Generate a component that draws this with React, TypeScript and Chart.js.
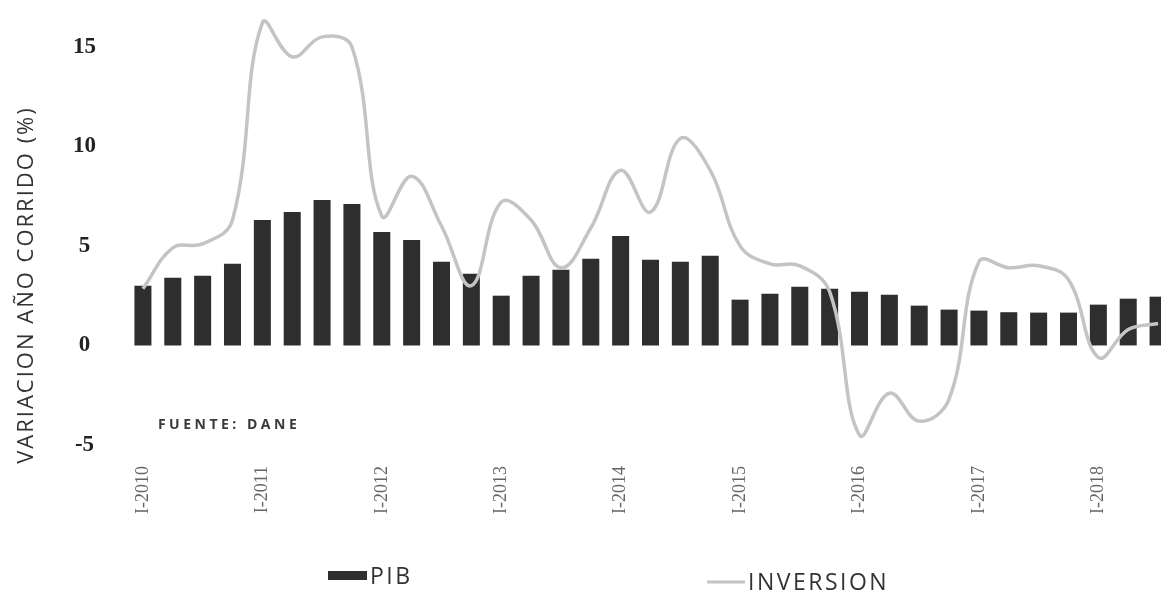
import React, { useEffect, useRef } from "react";
import { Chart, registerables } from "chart.js";

Chart.register(...registerables);

const categories = [
  "I-2010", "II-2010", "III-2010", "IV-2010",
  "I-2011", "II-2011", "III-2011", "IV-2011",
  "I-2012", "II-2012", "III-2012", "IV-2012",
  "I-2013", "II-2013", "III-2013", "IV-2013",
  "I-2014", "II-2014", "III-2014", "IV-2014",
  "I-2015", "II-2015", "III-2015", "IV-2015",
  "I-2016", "II-2016", "III-2016", "IV-2016",
  "I-2017", "II-2017", "III-2017", "IV-2017",
  "I-2018", "II-2018", "III-2018",
];

const pib = [
  3.0, 3.4, 3.5, 4.1,
  6.3, 6.7, 7.3, 7.1,
  5.7, 5.3, 4.2, 3.6,
  2.5, 3.5, 3.8, 4.35,
  5.5, 4.3, 4.2, 4.5,
  2.3, 2.6, 2.95, 2.85,
  2.7, 2.55, 2.0, 1.8,
  1.75, 1.67, 1.65, 1.65,
  2.05, 2.35, 2.45,
];

const inversion = [
  2.85, 4.9, 5.1, 6.3,
  16.2, 14.5, 15.5, 15.0,
  6.5, 8.5, 6.0, 3.0,
  7.2, 6.3, 3.9, 5.9,
  8.8, 6.7, 10.4, 8.8,
  5.0, 4.1, 4.0, 2.7,
  -4.5, -2.4, -3.8, -2.7,
  4.2, 3.9, 4.0, 3.3,
  -0.6, 0.8, 1.1,
];

const yTickValues = [-5, 0, 5, 10, 15];
const seriesNames = ["PIB", "INVERSION"];
const axisTitle = "VARIACION AÑO CORRIDO (%)";
const sourceNote = "FUENTE: DANE";

const BAR_COLOR = "#2e2e2e";
const LINE_COLOR = "#c4c4c4";

const decorations = {
  id: "decorations",
  afterDraw(chart: any) {
    const ctx = chart.ctx as CanvasRenderingContext2D;
    const xs = chart.scales.x;
    const ys = chart.scales.y;

    // Y-axis title
    ctx.save();
    ctx.translate(27, 285);
    ctx.rotate(-Math.PI / 2);
    ctx.font = '22px "Open Sans"';
    (ctx as any).letterSpacing = "2px";
    ctx.fillStyle = "#333333";
    ctx.textAlign = "center";
    ctx.textBaseline = "middle";
    ctx.fillText(axisTitle, 0, 0);
    ctx.restore();

    // Source note
    ctx.save();
    ctx.font = 'bold 14px "Open Sans"';
    (ctx as any).letterSpacing = "3.5px";
    ctx.fillStyle = "#3a3a3a";
    ctx.textAlign = "left";
    ctx.textBaseline = "middle";
    ctx.fillText(sourceNote, xs.getPixelForValue(0) + 15, ys.getPixelForValue(-4));
    ctx.restore();

    // Legend
    ctx.save();
    ctx.font = '23px "Open Sans"';
    (ctx as any).letterSpacing = "2.5px";
    ctx.textAlign = "left";
    ctx.textBaseline = "middle";
    ctx.fillStyle = BAR_COLOR;
    ctx.fillRect(328, 571, 39, 9);
    ctx.fillStyle = "#333333";
    ctx.fillText(seriesNames[0], 370, 577);
    ctx.strokeStyle = LINE_COLOR;
    ctx.lineWidth = 3;
    ctx.beginPath();
    ctx.moveTo(707, 582);
    ctx.lineTo(745, 582);
    ctx.stroke();
    ctx.fillText(seriesNames[1], 748, 583);
    ctx.restore();
  },
};

export default function App() {
  const canvasRef = useRef<HTMLCanvasElement | null>(null);

  useEffect(() => {
    if (!canvasRef.current) return;
    const chart = new Chart(canvasRef.current, {
      type: "bar",
      data: {
        labels: categories,
        datasets: [
          {
            type: "line",
            label: seriesNames[1],
            data: inversion,
            borderColor: LINE_COLOR,
            backgroundColor: LINE_COLOR,
            borderWidth: 3.5,
            pointRadius: 0,
            tension: 0.4,
            fill: false,
            order: 0,
          } as any,
          {
            type: "bar",
            label: seriesNames[0],
            data: pib,
            backgroundColor: BAR_COLOR,
            barPercentage: 0.57,
            categoryPercentage: 1,
            order: 1,
          } as any,
        ],
      },
      options: {
        animation: false,
        responsive: true,
        maintainAspectRatio: false,
        layout: { padding: { top: 7, right: 7, left: 0, bottom: 0 } },
        plugins: {
          legend: { display: false },
          tooltip: { enabled: false },
        },
        scales: {
          x: {
            grid: { display: false },
            border: { display: false },
            ticks: {
              autoSkip: false,
              minRotation: 90,
              maxRotation: 90,
              padding: 13,
              color: "#666666",
              font: { family: '"Liberation Serif"', size: 18 },
              callback: (_v: any, i: number) =>
                categories[i].startsWith("I-") ? categories[i] : "",
            },
            afterFit: (s: any) => {
              s.height = 151;
              s.paddingLeft = 0;
              s.paddingRight = 0;
            },
          },
          y: {
            min: -5,
            max: 17,
            grid: { display: false },
            border: { display: false },
            afterBuildTicks: (s: any) => {
              s.ticks = yTickValues.map((v) => ({ value: v }));
            },
            ticks: {
              crossAlign: "center",
              padding: 24,
              color: "#222222",
              font: { family: '"Liberation Serif"', size: 23, weight: "bold" },
            },
            afterFit: (s: any) => {
              s.width = 128;
              s.paddingTop = 0;
              s.paddingBottom = 0;
            },
          },
        },
      } as any,
      plugins: [decorations],
    });
    return () => chart.destroy();
  }, []);

  return (
    <div
      style={{
        position: "fixed",
        left: 0,
        top: 0,
        width: 1161,
        height: 596,
        overflow: "hidden",
        background: "#ffffff",
      }}
    >
      <div style={{ position: "relative", width: 1180, height: 596 }}>
        <canvas ref={canvasRef} />
      </div>
    </div>
  );
}
